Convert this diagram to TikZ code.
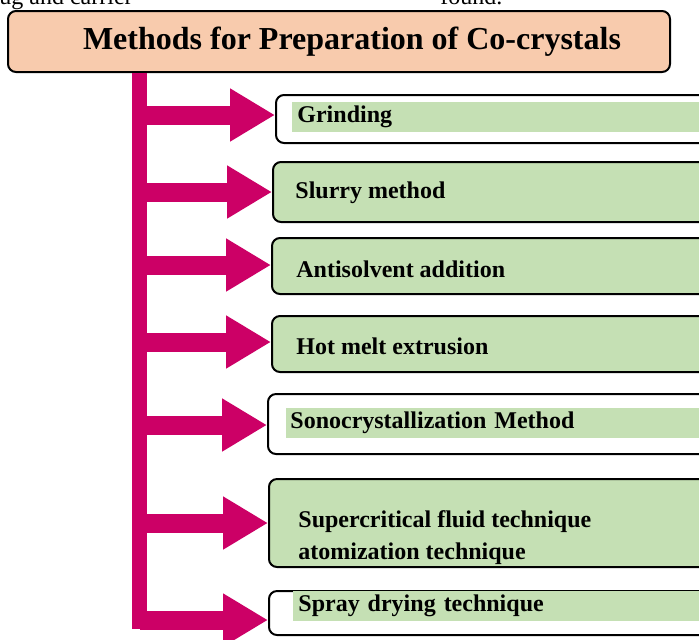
\documentclass[tikz,border=0pt]{standalone}
\usepackage{fontspec}
\setmainfont{Liberation Serif}
\usetikzlibrary{arrows.meta}
\tikzstyle{sheet} = [x = .5pt, y = -.5pt]
\definecolor{titleColor}{RGB}{248,203,173}
\definecolor{methodColor}{RGB}{197,224,180}
\definecolor{arrowColor}{RGB}{204,0,102}
\tikzstyle{titleBox} = [draw, fill=titleColor, rounded corners = 4pt, line width=1pt, minimum width=331pt, minimum height=30.5pt, font=\fontsize{16}{18}\selectfont\bfseries]
\tikzstyle{methodBox} = [draw, fill=white, rounded corners = 4pt, line width=1pt, anchor=west, minimum width=240pt]
\tikzstyle{filledBox} = [methodBox, fill=methodColor]
\tikzstyle{methodText} = [anchor=west, inner sep=0pt, align=left, font=\fontsize{12}{16}\selectfont\bfseries]
\tikzstyle{highlightText} = [methodText, fill=methodColor, inner ysep=0pt, text width=220pt, minimum height=15pt]
\tikzstyle{pageText} = [anchor=base west, inner sep=0pt, font=\fontsize{12}{14}\selectfont]
\tikzstyle{spineLine} = [color=arrowColor, line width=7.5pt]
\tikzstyle{branchArrow} = [color=arrowColor, line width=9.5pt, -{Triangle[length=22.5pt, width=25pt]}]
\newcommand{\methodArrow}[2]{\draw [branchArrow] (#1) -- (#1 -| #2.west);}

\begin{document}
\begin{tikzpicture}[sheet]
  \useasboundingbox (0,0) rectangle (699,639);
  \clip (0,0) rectangle (699,639);
  % cut text of the page above
  \node [pageText] (pageLeft) at (-1,4) {ug and carrier};
  \node [pageText] (pageRight) at (440,4) {found.};
  % heading
  \node [titleBox] (title) at (339,41.5) {\hspace*{13pt}Methods for Preparation of Co-crystals};
  % method boxes
  \node [methodBox, minimum height=24pt] (grinding) at (275,119) {};
  \node [highlightText, inner xsep=2.5pt] (grindingText) at (292,117) {Grinding};
  \node [filledBox, minimum height=30pt] (slurry) at (272,192) {};
  \node [methodText] (slurryText) at (295,193) {Slurry method};
  \node [filledBox, minimum height=28pt] (antisolvent) at (271,266) {};
  \node [methodText] (antisolventText) at (296,269) {Antisolvent addition};
  \node [filledBox, minimum height=28pt] (hotmelt) at (271,344) {};
  \node [methodText] (hotmeltText) at (296,346) {Hot melt extrusion};
  \node [methodBox, minimum height=30pt] (sono) at (267,424) {};
  \node [highlightText, inner xsep=2pt] (sonoText) at (286,423) {Sonocrystallization Method};
  \node [filledBox, minimum height=44pt] (supercritical) at (268,523) {};
  \node [methodText] (supercriticalText) at (298,538) {Supercritical fluid technique\\atomization technique};
  \node [methodBox, minimum height=22pt] (spray) at (268,613) {};
  \node [highlightText, inner xsep=2.5pt] (sprayText) at (293,606) {Spray drying technique};
  % spine and branches
  \foreach \branch/\ypos in {bGrinding/115, bSlurry/192, bAntisolvent/265, bHotmelt/342, bSono/425, bSupercritical/523, bSpray/620}
    \coordinate (\branch) at (139.5,\ypos);
  \coordinate (spineEnd) at (139.5,629);
  \draw [spineLine] (title.south -| spineEnd) -- (spineEnd);
  \methodArrow{bGrinding}{grinding}
  \methodArrow{bSlurry}{slurry}
  \methodArrow{bAntisolvent}{antisolvent}
  \methodArrow{bHotmelt}{hotmelt}
  \methodArrow{bSono}{sono}
  \methodArrow{bSupercritical}{supercritical}
  \methodArrow{bSpray}{spray}
\end{tikzpicture}
\end{document}
